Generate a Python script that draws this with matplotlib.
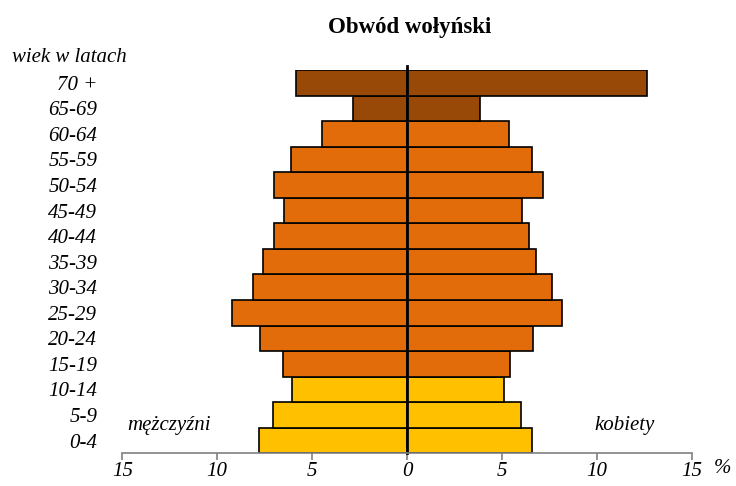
import matplotlib
matplotlib.use("Agg")
import matplotlib.pyplot as plt

age_groups = ["0-4", "5-9", "10-14", "15-19", "20-24", "25-29", "30-34",
              "35-39", "40-44", "45-49", "50-54", "55-59", "60-64", "65-69", "70 +"]
men = [7.81, 7.07, 6.05, 6.51, 7.74, 9.23, 8.09, 7.6, 7.0, 6.47, 7.0, 6.10, 4.48, 2.83, 5.84]
women = [6.56, 5.99, 5.13, 5.43, 6.65, 8.19, 7.65, 6.80, 6.43, 6.08, 7.14, 6.59, 5.36, 3.83, 12.66]
x_ticks = [-15, -10, -5, 0, 5, 10, 15]
x_tick_labels = ["15", "10", "5", "0", "5", "10", "15"]

YELLOW = "#FFC000"
ORANGE = "#E36C0A"
BROWN = "#984807"
colors = [YELLOW] * 3 + [ORANGE] * 10 + [BROWN] * 2

serif = ["Liberation Serif", "DejaVu Serif"]
plt.rcParams["font.family"] = serif

fig = plt.figure(figsize=(7.36, 4.86), dpi=100)
ax = fig.add_axes([0.1662, 0.0673, 0.7736, 0.7887])

y = list(range(len(age_groups)))
ax.barh(y, [-v for v in men], height=1.0, color=colors, edgecolor="black", linewidth=1.2)
ax.barh(y, women, height=1.0, color=colors, edgecolor="black", linewidth=1.2)
ax.axvline(0, color="black", linewidth=2.0, ymin=0, ymax=1.01, clip_on=False)

ax.set_xlim(-15, 15)
ax.set_ylim(-0.5, len(age_groups) - 0.5)

for s in ["top", "right", "left"]:
    ax.spines[s].set_visible(False)
ax.spines["bottom"].set_color("#808080")
ax.spines["bottom"].set_linewidth(1.2)

ax.set_xticks(x_ticks)
ax.set_xticklabels(x_tick_labels, fontstyle="italic", fontsize=15)
ax.tick_params(axis="x", direction="out", length=5, width=1.2, color="#808080", pad=1)

ax.set_yticks(y)
ax.set_yticklabels(age_groups, fontstyle="italic", fontsize=15)
ax.tick_params(axis="y", length=0, pad=18)

fig.text(0.556, 0.944, "Obwód wołyński", ha="center", va="center", fontsize=16.5, fontweight="bold")
fig.text(0.016, 0.882, "wiek w latach", ha="left", va="center", fontsize=15, fontstyle="italic")
fig.text(0.229, 0.125, "mężczyźni", ha="center", va="center", fontsize=15, fontstyle="italic")
fig.text(0.848, 0.125, "kobiety", ha="center", va="center", fontsize=15, fontstyle="italic")
fig.text(0.981, 0.037, "%", ha="center", va="center", fontsize=15, fontstyle="italic")

fig.savefig("out.png", dpi=100)
